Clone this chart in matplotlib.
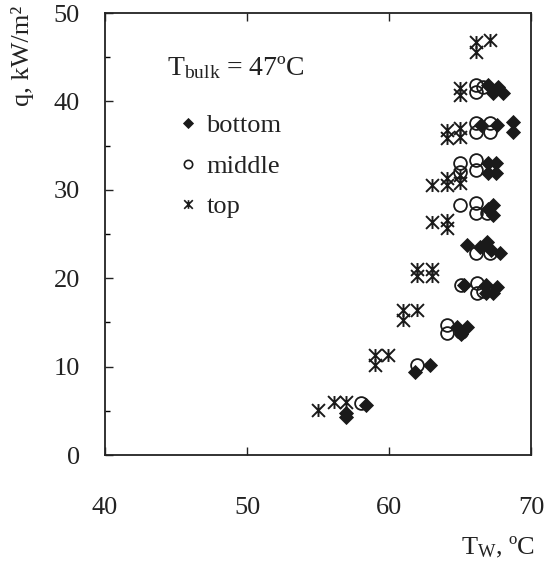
import matplotlib
matplotlib.use("Agg")
import matplotlib.pyplot as plt
from matplotlib.ticker import MultipleLocator
from matplotlib.path import Path
from matplotlib.lines import Line2D

plt.rcParams['font.family'] = ['Liberation Serif', 'DejaVu Serif']
plt.rcParams['mathtext.fontset'] = 'custom'
plt.rcParams['mathtext.rm'] = 'Liberation Serif'
plt.rcParams['mathtext.it'] = 'Liberation Serif:italic'

# Data (wall temperature Tw in degC, heat flux q in kW/m2)
bottom_T = [57.0, 57.0, 58.4, 61.8, 62.9, 64.8, 65.5, 65.1,
            65.3, 66.8, 67.3, 66.8, 67.6,
            65.5, 66.4, 66.9, 67.8, 67.2,
            67.3, 67.3, 67.0,
            67.0, 67.5, 67.0, 67.5,
            66.5, 67.6, 68.7, 68.7,
            67.0, 67.3, 67.7, 68.0]
bottom_q = [4.7, 4.3, 5.6, 9.4, 10.2, 14.5, 14.5, 13.7,
            19.2, 19.2, 18.3, 18.3, 19.0,
            23.8, 23.5, 24.1, 22.9, 23.2,
            28.3, 27.1, 27.8,
            33.0, 33.0, 31.9, 31.9,
            37.3, 37.3, 37.7, 36.5,
            41.8, 41.0, 41.6, 41.0]

middle_T = [58.0, 62.0, 64.1, 64.1, 65.1,
            65.1, 66.2, 66.2, 66.6,
            66.1, 67.1,
            65.0, 66.1, 66.1, 66.9,
            65.0, 65.0, 66.1, 66.1,
            66.1, 66.1, 67.1, 67.1,
            66.1, 66.1, 66.6]
middle_q = [5.9, 10.2, 14.7, 13.8, 13.9,
            19.2, 19.5, 18.3, 18.5,
            22.9, 22.9,
            28.3, 28.5, 27.4, 27.4,
            33.0, 32.0, 33.4, 32.2,
            37.6, 36.5, 37.6, 36.5,
            41.9, 41.1, 41.6]

top_T = [55.0, 56.1, 57.0,
         59.0, 59.9, 59.0,
         61.0, 62.0, 61.0,
         62.0, 62.0, 63.0, 63.0,
         63.0, 64.1, 64.1,
         63.0, 64.1, 64.1, 65.0, 65.0,
         64.1, 64.1, 65.0, 65.0,
         65.0, 65.0,
         66.1, 67.1, 66.1]
top_q = [5.1, 6.0, 6.0,
         11.3, 11.3, 10.2,
         16.4, 16.4, 15.3,
         21.0, 20.3, 21.0, 20.3,
         26.4, 26.6, 25.7,
         30.5, 31.3, 30.5, 31.7, 30.8,
         36.8, 35.9, 37.0, 36.0,
         41.5, 40.7,
         46.7, 46.9, 45.6]

x_ticks = [40, 50, 60, 70]
y_ticks = [0, 10, 20, 30, 40, 50]
series_labels = ['bottom', 'middle', 'top']

# Excel-style star: an X with a vertical bar
star = Path([(-1, -1), (1, 1), (-1, 1), (1, -1), (0, -1), (0, 1)],
            [Path.MOVETO, Path.LINETO, Path.MOVETO, Path.LINETO,
             Path.MOVETO, Path.LINETO])

ink = '#1a1a1a'
fig = plt.figure(figsize=(5.46, 5.62), dpi=100)
ax = fig.add_axes([105/546, 1 - 455/562, 426/546, 442/562])

ax.plot(bottom_T, bottom_q, linestyle='none', marker='D', ms=7.6,
        mfc=ink, mec=ink, mew=0.6)
ax.plot(middle_T, middle_q, linestyle='none', marker='o', ms=9.2,
        mfc='none', mec=ink, mew=1.3)
ax.plot(top_T, top_q, linestyle='none', marker=star, ms=9.3,
        mfc='none', mec=ink, mew=1.4)

ax.set_xlim(40, 70)
ax.set_ylim(0, 50)
ax.set_xticks(x_ticks)
ax.set_yticks(y_ticks)
ax.yaxis.set_minor_locator(MultipleLocator(5))

for s in ax.spines.values():
    s.set_linewidth(1.3)
    s.set_color('#222222')

ax.tick_params(axis='x', which='major', direction='in', length=6, width=1.0,
               top=True, bottom=True, labelsize=19, pad=30, colors='#222222')
ax.tick_params(axis='y', which='major', direction='in', length=6, width=1.0,
               left=True, right=False, labelsize=19, pad=18, colors='#222222')
ax.tick_params(axis='y', which='minor', direction='in', length=3.5, width=1.0,
               left=True, right=False)

ax.text(0.146, 0.86, r'T$_{\mathrm{bulk}}$ = 47ºC', transform=ax.transAxes,
        fontsize=20, ha='left', va='baseline', color='#222222')

handles = [
    Line2D([], [], linestyle='none', marker='D', ms=5.6, mfc=ink, mec=ink, mew=0.6),
    Line2D([], [], linestyle='none', marker='o', ms=6.0, mfc='none', mec=ink, mew=1.2),
    Line2D([], [], linestyle='none', marker=star, ms=6.2, mfc='none', mec=ink, mew=1.2),
]
leg = ax.legend(handles=handles, labels=series_labels, loc='upper left',
                bbox_to_anchor=(0.173, 0.772), frameon=False, fontsize=19,
                handlelength=0.7, handletextpad=0.35, labelspacing=0.65,
                borderaxespad=0, borderpad=0)
for t in leg.get_texts():
    t.set_color('#222222')

fig.text(22/546, 1 - 6/562, 'q, kW/m²', rotation=90, ha='center', va='top',
         fontsize=19, color='#222222')
fig.text(535/546, 8/562, r'T$_{\mathrm{W}}$, ºC', ha='right', va='baseline',
         fontsize=19, color='#222222')

fig.savefig('out.png', dpi=100)
